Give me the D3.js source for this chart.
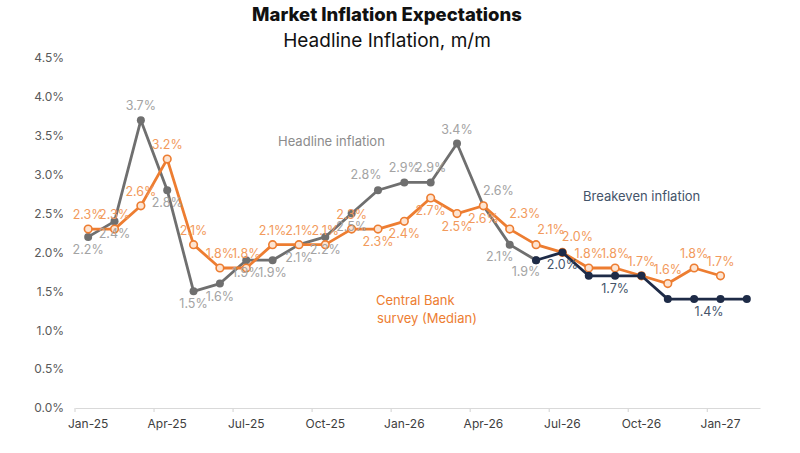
<!DOCTYPE html>
<html>
<head>
<meta charset="utf-8">
<script src="https://cdn.jsdelivr.net/npm/d3@7"></script>
<style>
  body { margin: 0; background: #fff; }
  text { font-family: Inter, "Open Sans", sans-serif; }
</style>
</head>
<body>
<div id="chart"></div>
<script>
// months on the axis, Jan-25 .. Feb-27
const months = ["Jan-25","Feb-25","Mar-25","Apr-25","May-25","Jun-25","Jul-25","Aug-25","Sep-25","Oct-25","Nov-25","Dec-25",
  "Jan-26","Feb-26","Mar-26","Apr-26","May-26","Jun-26","Jul-26","Aug-26","Sep-26","Oct-26","Nov-26","Dec-26",
  "Jan-27","Feb-27"];
const tickMonths = ["Jan-25","Apr-25","Jul-25","Oct-25","Jan-26","Apr-26","Jul-26","Oct-26","Jan-27"];
const yTicks = [0, 0.5, 1, 1.5, 2, 2.5, 3, 3.5, 4, 4.5];

const headline = [2.2, 2.4, 3.7, 2.8, 1.5, 1.6, 1.9, 1.9, 2.1, 2.2, 2.5, 2.8, 2.9, 2.9, 3.4, 2.6, 2.1, 1.9];
const survey = [2.3, 2.3, 2.6, 3.2, 2.1, 1.8, 1.8, 2.1, 2.1, 2.1, 2.3, 2.3, 2.4, 2.7, 2.5, 2.6, 2.3, 2.1, 2.0, 1.8, 1.8, 1.7, 1.6, 1.8, 1.7];
// breakeven starts where headline ends (Jun-26)
const breakeven = [null, null, null, null, null, null, null, null, null, null, null, null,
  null, null, null, null, null, 1.9, 2.0, 1.7, 1.7, 1.7, 1.4, 1.4, 1.4, 1.4];

// label placement per point (t top, b bottom, tr/br/bl right/left variants, - none)
const headlinePos = ["b","b","t","b","b","b","b","b","b","b","b","tl","t","t","t","tr","bl","bl"];
const surveyPos = ["t","t","t","t","t","t","t","t","t","t","t","b","b","b","b","b","tr","tr","tr","t","t","t","t","t","t"];
const breakevenPos = ["-","-","-","-","-","-","-","-","-","-","-","-","-","-","-","-","-","-","b","-","b","-","-","br","-","-"];

const W = 800, H = 453;
const svg = d3.select("#chart").append("svg").attr("width", W).attr("height", H);

const x = d3.scaleBand().domain(months).range([75, 760]);
const y = d3.scaleLinear().domain([0, 4.5]).range([408, 58]);
const cx = m => x(m) + x.bandwidth() / 2;

// titles
svg.append("text").attr("x", 387).attr("y", 21).attr("text-anchor", "middle")
  .attr("font-size", 18.5).attr("font-weight", 800).attr("fill", "#111").text("Market Inflation Expectations");
svg.append("text").attr("x", 387).attr("y", 47).attr("text-anchor", "middle")
  .attr("font-size", 19).attr("fill", "#111").text("Headline Inflation, m/m");

// y axis labels
const yAxis = svg.append("g").attr("transform", "translate(64,0)")
  .call(d3.axisLeft(y).tickValues(yTicks).tickFormat(d => d.toFixed(1) + "%").tickSize(0).tickPadding(0));
yAxis.select(".domain").remove();
yAxis.selectAll("text").attr("font-size", 12).attr("fill", "#595959").style("font-family", "Inter, sans-serif");

// x axis
const xAxis = svg.append("g").attr("transform", "translate(0,408)")
  .call(d3.axisBottom(x).tickValues(tickMonths).tickSize(0).tickPadding(11));
xAxis.select(".domain").attr("stroke", "#d9d9d9").attr("stroke-width", 1.2);
xAxis.selectAll("text").attr("font-size", 12).attr("fill", "#404040").style("font-family", "Inter, sans-serif");
xAxis.selectAll("line.bound").data(tickMonths).join("line").attr("class", "bound")
  .attr("x1", d => x(d)).attr("x2", d => x(d)).attr("y1", 0).attr("y2", 4)
  .attr("stroke", "#d9d9d9").attr("stroke-width", 1.2);

const offsets = {
  t: [0, -10], b: [0, 17], tr: [15, -11], tl: [-12, -11], br: [15, 17], bl: [-10, 16]
};

function drawSeries(vals, pos, lineColor, hollow) {
  const pts = vals.map((v, i) => ({ m: months[i], v, p: pos[i] })).filter(d => d.v != null);
  svg.append("path").datum(pts)
    .attr("fill", "none").attr("stroke", lineColor).attr("stroke-width", 2.8)
    .attr("stroke-linejoin", "round")
    .attr("d", d3.line().x(d => cx(d.m)).y(d => y(d.v)));
  svg.append("g").selectAll("circle").data(pts).join("circle")
    .attr("cx", d => cx(d.m)).attr("cy", d => y(d.v)).attr("r", hollow ? 3.8 : 4)
    .attr("fill", hollow ? "#fde4d2" : lineColor)
    .attr("stroke", lineColor).attr("stroke-width", hollow ? 1.6 : 0);
  return pts;
}

function drawLabels(pts, color) {
  svg.append("g").selectAll("text").data(pts.filter(d => d.p !== "-")).join("text")
    .attr("x", d => cx(d.m) + offsets[d.p][0])
    .attr("y", d => y(d.v) + offsets[d.p][1])
    .attr("text-anchor", "middle").attr("font-size", 12.5).attr("fill", color)
    .text(d => d.v.toFixed(1) + "%");
}

const hPts = drawSeries(headline, headlinePos, "#6f6f6f", false);
const sPts = drawSeries(survey, surveyPos, "#ed7d31", true);
const bPts = drawSeries(breakeven, breakevenPos, "#1e2b47", false);
drawLabels(hPts, "#a3a3a3");
drawLabels(sPts, "#f29a5c");
drawLabels(bPts, "#44546a");

// series names
svg.append("text").attr("x", 278).attr("y", 146).attr("font-size", 13).attr("fill", "#8c8c8c").text("Headline inflation");
svg.append("text").attr("x", 583).attr("y", 201).attr("font-size", 13).attr("fill", "#44546a").text("Breakeven inflation");
svg.append("text").attr("x", 376).attr("y", 305).attr("font-size", 13).attr("fill", "#ed7d31").text("Central Bank");
svg.append("text").attr("x", 377).attr("y", 323).attr("font-size", 13).attr("fill", "#ed7d31").text("survey (Median)");
</script>
</body>
</html>
